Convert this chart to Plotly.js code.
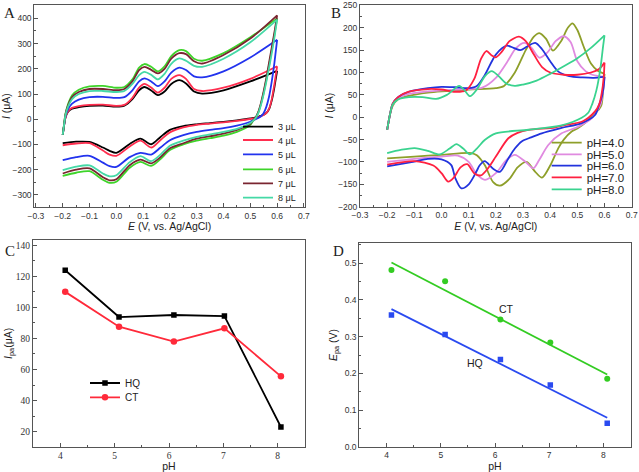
<!DOCTYPE html>
<html><head><meta charset="utf-8">
<script src="https://cdn.plot.ly/plotly-3.0.1.min.js"></script>
<style>html,body{margin:0;padding:0;background:#fff}#chart{width:639px;height:472px}</style>
</head><body><div id="chart"></div>
<script>
// ---------- Panel A: CVs for different volumes ----------
const aNames = ['3 μL','4 μL','5 μL','6 μL','7 μL','8 μL'];
const aFwdE = [-0.2,-0.195,-0.19,-0.18,-0.165,-0.14,-0.1,-0.05,0.0,0.03,0.06,0.085,0.105,0.13,0.155,0.18,0.205,0.235,0.26,0.29,0.32,0.4,0.5,0.6];
const aRevE = [0.6,0.595,0.59,0.58,0.57,0.56,0.55,0.54,0.53,0.52,0.51,0.5,0.45,0.4,0.35,0.3,0.25,0.2,0.165,0.13,0.09,0.05,0.0,-0.025,-0.05,-0.1,-0.15,-0.2];
const aFwd3 = [-62,-25,5,30,42,48,53,54,50,54,80,115,128,114,96,110,140,155,142,110,102,115,150,192];
const aFwd4 = [-62,-25,5,32,45,52,57,58,53,57,85,125,140,126,106,125,160,175,160,120,112,125,160,210];
const aFwd5 = [-62,-25,10,40,62,78,88,89,85,88,115,150,162,150,131,150,185,205,195,170,166,190,245,315];
const aFwd6 = [-62,-20,20,60,95,117,130,132,125,128,158,205,219,208,190,210,250,274,270,240,232,262,325,400];
const aFwd7 = [-62,-22,18,55,88,108,120,120,115,120,150,195,208,196,182,200,240,262,258,230,221,255,320,412];
const aFwd8 = [-62,-22,15,50,80,100,112,112,108,112,140,175,188,176,158,180,220,241,232,212,208,240,305,395];
const aRev3 = [192,160,128,75,40,25,18,14,10,7,5,3,-4,-10,-15,-20,-27,-42,-70,-99,-77,-98,-133,-125,-112,-90,-89,-95];
const aRev4 = [210,175,140,80,42,25,17,12,8,5,3,1,-6,-12,-17,-22,-32,-52,-82,-112,-85,-108,-145,-140,-124,-95,-96,-103];
const aRev5 = [315,270,225,150,90,50,25,12,5,0,-4,-10,-25,-35,-42,-50,-63,-83,-112,-140,-133,-150,-189,-186,-172,-145,-150,-162];
const aRev6 = [400,368,335,275,215,158,106,62,28,6,-7,-22,-50,-65,-75,-85,-100,-122,-158,-185,-169,-192,-248,-252,-240,-206,-212,-224];
const aRev7 = [412,378,345,285,225,165,112,66,30,8,-5,-18,-42,-57,-67,-77,-95,-115,-150,-175,-160,-182,-238,-242,-230,-195,-200,-215];
const aRev8 = [395,360,325,262,205,150,100,58,25,5,-6,-15,-38,-50,-60,-70,-85,-105,-140,-166,-146,-170,-222,-226,-215,-183,-188,-202];

// ---------- Panel B: CVs at different pH ----------
const bNames = ['pH=4.0','pH=5.0','pH=6.0','pH=7.0','pH=8.0'];
const bE4 = [-0.2,-0.19,-0.18,-0.16,-0.12,-0.05,0.0,0.1,0.2,0.23,0.27,0.31,0.34,0.36,0.385,0.41,0.44,0.465,0.482,0.5,0.525,0.55,0.575,0.6,
  0.595,0.589,0.58,0.565,0.528,0.5,0.479,0.45,0.43,0.4,0.37,0.345,0.313,0.28,0.25,0.215,0.19,0.159,0.13,0.11,0.0,-0.1,-0.2];
const bI4 = [-28,5,25,40,48,55,58,62,65,70,100,150,180,188,175,149,170,200,210,195,155,120,104,97,
  60,28,18,10,-13,-25,-32,-50,-69,-108,-135,-122,-100,-112,-138,-153,-145,-107,-85,-80,-84,-88,-92];
const bE5 = [-0.2,-0.19,-0.18,-0.16,-0.12,-0.05,0.0,0.1,0.15,0.2,0.24,0.275,0.305,0.33,0.36,0.39,0.42,0.45,0.475,0.5,0.53,0.555,0.58,0.6,
  0.595,0.585,0.553,0.504,0.442,0.393,0.36,0.338,0.31,0.27,0.24,0.2,0.16,0.13,0.1,0.06,0.0,-0.1,-0.2];
const bI5 = [-28,5,28,42,52,58,60,63,66,88,122,155,166,156,133,145,170,181,168,125,103,95,92,90,
  60,28,-2,-21,-36,-62,-95,-114,-100,-84,-95,-125,-140,-128,-100,-86,-88,-93,-100];
const bE6 = [-0.2,-0.19,-0.18,-0.16,-0.12,-0.05,0.0,0.05,0.1,0.13,0.16,0.2,0.24,0.265,0.29,0.315,0.345,0.37,0.4,0.43,0.47,0.52,0.56,0.6,
  0.597,0.59,0.58,0.565,0.516,0.442,0.369,0.33,0.295,0.27,0.246,0.215,0.19,0.159,0.14,0.128,0.1,0.073,0.05,0.036,0.0,-0.05,-0.1,-0.2];
const bI6 = [-28,5,30,45,57,65,68,67,65,70,95,140,160,155,150,158,166,152,125,102,92,89,88,90,
  70,45,28,5,-13,-24,-36,-45,-54,-70,-92,-122,-115,-98,-108,-122,-150,-159,-135,-107,-94,-93,-99,-110];
const bE7 = [-0.2,-0.19,-0.18,-0.16,-0.12,-0.05,0.0,0.05,0.09,0.12,0.145,0.165,0.185,0.2,0.22,0.25,0.285,0.31,0.34,0.37,0.4,0.45,0.5,0.55,0.58,0.6,
  0.597,0.59,0.58,0.565,0.52,0.45,0.417,0.32,0.28,0.246,0.2,0.17,0.145,0.12,0.095,0.07,0.045,0.025,0.0,-0.03,-0.1,-0.2];
const bI7 = [-28,5,30,45,57,63,62,57,60,85,130,148,138,134,145,170,180,170,140,112,100,95,95,100,108,122,
  90,55,28,13,-9,-18,-23,-28,-35,-47,-88,-115,-130,-125,-105,-112,-135,-144,-125,-108,-98,-106];
const bE8 = [-0.2,-0.19,-0.18,-0.16,-0.12,-0.07,-0.02,0.02,0.065,0.085,0.105,0.13,0.16,0.185,0.21,0.24,0.27,0.3,0.35,0.4,0.45,0.5,0.55,0.6,
  0.595,0.585,0.57,0.555,0.54,0.516,0.442,0.32,0.2,0.159,0.13,0.104,0.08,0.055,0.03,-0.007,-0.05,-0.099,-0.15,-0.2];
const bI8 = [-28,5,28,40,45,45,41,50,70,60,47,62,92,103,92,75,70,73,82,97,114,132,155,183,
  160,110,60,30,10,-1,-18,-28,-36,-51,-70,-83,-70,-60,-70,-83,-75,-69,-73,-80];

// ---------- Panel C: Ipa vs pH ----------
const cPH = [4.09,5.08,6.09,7.02,8.06];
const cHQ = [123.9,93.8,95.1,94.4,23.0];
const cCT = [110.0,87.6,78.0,86.5,55.6];

// ---------- Panel D: Epa vs pH ----------
const dPH = [4.09,5.08,6.10,7.02,8.07];
const dCT = [0.482,0.451,0.347,0.284,0.185];
const dHQ = [0.359,0.306,0.238,0.168,0.064];
const dFitPH = [4.09,8.07];
const dCTFit = [0.502,0.197];
const dHQFit = [0.375,0.079];

// ---------- build ----------
const aColors = ['#000000','#ff2e4f','#2233ee','#3ed42a','#7a2530','#45d9a6'];
const bColors = ['#8e9f2a','#e08ae0','#2233dd','#ff2040','#3ad38f'];
const traces = [];
function addLoop(xf, yf, xr, yr, name, color, legendId, xa, ya){
  const ln = {color:color, width:1.8, shape:'spline', smoothing:0.8};
  traces.push({x:xf, y:yf, name:name, mode:'lines', line:ln, xaxis:xa, yaxis:ya, legend:legendId, legendgroup:name});
  traces.push({x:xr, y:yr, name:name, mode:'lines', line:ln, xaxis:xa, yaxis:ya, showlegend:false, legendgroup:name});
}
const aF = [aFwd3,aFwd4,aFwd5,aFwd6,aFwd7,aFwd8];
const aR = [aRev3,aRev4,aRev5,aRev6,aRev7,aRev8];
const legIds = ['legend','legend2','legend3','legend4','legend5','legend6','legend7','legend8','legend9','legend10','legend11','legend12','legend13'];
for (let i=0;i<6;i++) addLoop(aFwdE, aF[i], aRevE, aR[i], aNames[i], aColors[i], legIds[i], 'x', 'y');
const bE = [bE4,bE5,bE6,bE7,bE8], bI = [bI4,bI5,bI6,bI7,bI8];
for (let i=0;i<5;i++){
  const e = bE[i], c = bI[i];
  let k = 0; for (let j=0;j<e.length;j++) if (e[j] > e[k]) k = j;
  addLoop(e.slice(0,k+1), c.slice(0,k+1), e.slice(k), c.slice(k), bNames[i], bColors[i], legIds[6+i], 'x2', 'y2');
}
traces.push({x:cPH, y:cHQ, name:'HQ', mode:'lines+markers', line:{color:'#000', width:1.8}, marker:{symbol:'square', size:5.5, color:'#000'}, xaxis:'x3', yaxis:'y3', legend:'legend12'});
traces.push({x:cPH, y:cCT, name:'CT', mode:'lines+markers', line:{color:'#ff2a3a', width:1.8}, marker:{symbol:'circle', size:6.5, color:'#ff2a3a'}, xaxis:'x3', yaxis:'y3', legend:'legend13'});
traces.push({x:dFitPH, y:dCTFit, name:'CT fit', mode:'lines', line:{color:'#33cc22', width:1.8}, xaxis:'x4', yaxis:'y4', showlegend:false});
traces.push({x:dFitPH, y:dHQFit, name:'HQ fit', mode:'lines', line:{color:'#2a4af0', width:1.8}, xaxis:'x4', yaxis:'y4', showlegend:false});
traces.push({x:dPH, y:dCT, name:'CT', mode:'markers', marker:{symbol:'circle', size:6, color:'#33cc22'}, xaxis:'x4', yaxis:'y4', showlegend:false});
traces.push({x:dPH, y:dHQ, name:'HQ', mode:'markers', marker:{symbol:'square', size:5.5, color:'#2a4af0'}, xaxis:'x4', yaxis:'y4', showlegend:false});

const W = 639, H = 472;
const sans = 'Liberation Sans, Arial, sans-serif';
const serif = 'Liberation Serif, Times New Roman, serif';
function ax(extra){
  return Object.assign({showline:true, mirror:true, linecolor:'#555', linewidth:1, ticks:'inside', ticklen:4, tickwidth:1, tickcolor:'#555',
    showgrid:false, zeroline:false, fixedrange:true, tickfont:{family:sans, size:8.5, color:'#333'}}, extra);
}
const tfont = {family:sans, size:10.5, color:'#222'};
const layout = {
  width:W, height:H, margin:{l:0,r:0,t:0,b:0}, paper_bgcolor:'#fff', plot_bgcolor:'#fff', showlegend:true,
  xaxis: ax({domain:[34.3/W,305/W], anchor:'y', range:[-0.306,0.704], dtick:0.1, tick0:0, tickformat:'.1f',
    minor:{dtick:0.05, ticks:'inside', ticklen:2, tickcolor:'#555'},
    title:{text:'<i>E</i> (V, vs. Ag/AgCl)', font:tfont, standoff:2}}),
  yaxis: ax({domain:[1-207.3/H,1-5/H], anchor:'x', range:[-349,453], dtick:100, tick0:0,
    minor:{dtick:50, ticks:'inside', ticklen:2, tickcolor:'#555'},
    title:{text:'<i>I</i> (μA)', font:tfont, standoff:0}}),
  xaxis2: ax({domain:[360/W,631.7/W], anchor:'y2', range:[-0.3,0.7], dtick:0.1, tick0:0, tickformat:'.1f',
    minor:{dtick:0.05, ticks:'inside', ticklen:2, tickcolor:'#555'},
    title:{text:'<i>E</i> (V, vs. Ag/AgCl)', font:tfont, standoff:2}}),
  yaxis2: ax({domain:[1-206.7/H,1-4.5/H], anchor:'x2', range:[-200,252], dtick:50, tick0:0,
    minor:{dtick:25, ticks:'inside', ticklen:2, tickcolor:'#555'},
    title:{text:'<i>I</i> (μA)', font:tfont, standoff:2}}),
  xaxis3: ax({domain:[33/W,305/W], anchor:'y3', range:[3.497,8.503], dtick:1, tick0:0,
    tickfont:{family:serif, size:9.5, color:'#333'},
    minor:{dtick:0.5, ticks:'inside', ticklen:2, tickcolor:'#555'},
    title:{text:'pH', font:tfont, standoff:1}}),
  yaxis3: ax({domain:[1-446.7/H,1-240/H], anchor:'x3', range:[10.3,143.4], dtick:20, tick0:0,
    tickfont:{family:serif, size:9.5, color:'#333'},
    minor:{dtick:10, ticks:'inside', ticklen:2, tickcolor:'#555'},
    title:{text:'<i>I</i><sub>pa</sub>(μA)', font:tfont, standoff:1}}),
  xaxis4: ax({domain:[359.3/W,630.7/W], anchor:'y4', range:[3.497,8.503], dtick:1, tick0:0,
    minor:{dtick:0.5, ticks:'inside', ticklen:2, tickcolor:'#555'},
    title:{text:'pH', font:tfont, standoff:1}}),
  yaxis4: ax({domain:[1-446.7/H,1-243.3/H], anchor:'x4', range:[0,0.5545], dtick:0.1, tick0:0, tickformat:'.1f',
    minor:{dtick:0.05, ticks:'inside', ticklen:2, tickcolor:'#555'},
    title:{text:'<i>E</i><sub>pa</sub> (V)', font:tfont, standoff:5}}),
  annotations: [
    {text:'A', xref:'paper', yref:'paper', x:2/W, y:1-13.5/H, xanchor:'left', yanchor:'middle', showarrow:false, font:{family:serif, size:15, color:'#222'}},
    {text:'B', xref:'paper', yref:'paper', x:329/W, y:1-13.5/H, xanchor:'left', yanchor:'middle', showarrow:false, font:{family:serif, size:15, color:'#222'}},
    {text:'C', xref:'paper', yref:'paper', x:2.5/W, y:1-251.5/H, xanchor:'left', yanchor:'middle', showarrow:false, font:{family:serif, size:15, color:'#222'}},
    {text:'D', xref:'paper', yref:'paper', x:331/W, y:1-251.5/H, xanchor:'left', yanchor:'middle', showarrow:false, font:{family:serif, size:15, color:'#222'}},
    {text:'CT', xref:'x4', yref:'y4', x:6.214, y:0.376, showarrow:false, font:{family:sans, size:10.5, color:'#222'}},
    {text:'HQ', xref:'x4', yref:'y4', x:5.64, y:0.227, showarrow:false, font:{family:sans, size:10.5, color:'#222'}}
  ]
};
const aRows = [126.7,140,154.3,169.3,183.3,197.7];
const bRows = [142.7,154.3,165.7,177.3,189.3];
const cRows = [383,397.3];
function leg(xpx, ypx, size){
  return {x:xpx/W, y:1-ypx/H, xanchor:'left', yanchor:'middle', bgcolor:'rgba(0,0,0,0)', borderwidth:0,
    font:{family:sans, size:size, color:'#222'}, tracegroupgap:0};
}
for (let i=0;i<6;i++) layout[legIds[i]] = leg(238, aRows[i], 9);
for (let i=0;i<5;i++) layout[legIds[6+i]] = leg(546.7, bRows[i], 11.5);
layout[legIds[11]] = leg(85, cRows[0], 10);
layout[legIds[12]] = leg(85, cRows[1], 10);

Plotly.newPlot('chart', traces, layout, {staticPlot:true, displayModeBar:false});
</script>
</body></html>
